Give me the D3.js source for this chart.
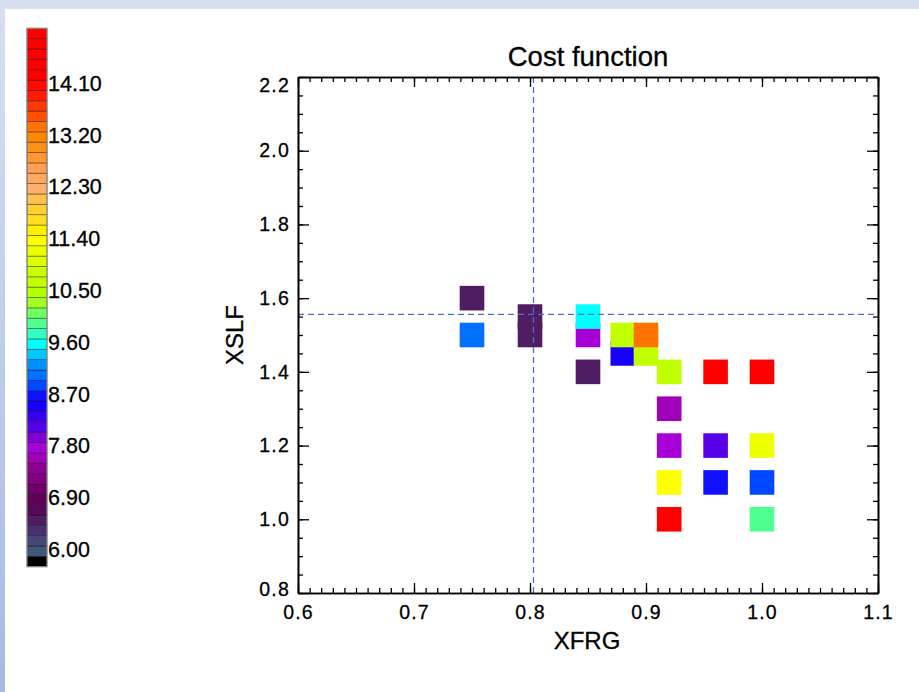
<!DOCTYPE html>
<html>
<head>
<meta charset="utf-8">
<script src="https://cdn.jsdelivr.net/npm/d3@7"></script>
<style>
  body { margin: 0; background: #fff; }
  text { font-family: "Liberation Sans", Arial, Helvetica, sans-serif; fill: #000; stroke: #000; stroke-width: 0.3px; }
</style>
</head>
<body>
<svg id="chart" width="919" height="692"></svg>
<script>
// grid points (drawn in this order: XSLF ascending, then XFRG)
var xfrg = [0.92, 1.00, 0.92, 0.96, 1.00, 0.92, 0.96, 1.00, 0.92, 0.85, 0.92, 0.96, 1.00,
            0.88, 0.90, 0.75, 0.80, 0.85, 0.88, 0.90, 0.80, 0.85, 0.75];
var xslf = [1.00, 1.00, 1.10, 1.10, 1.10, 1.20, 1.20, 1.20, 1.30, 1.40, 1.40, 1.40, 1.40,
            1.45, 1.45, 1.50, 1.50, 1.50, 1.50, 1.50, 1.55, 1.55, 1.60];
var cost = [14.60, 10.05, 11.45, 8.80, 9.05, 7.90, 8.25, 11.30, 7.70, 6.65, 10.75, 14.50, 14.80,
            8.61, 10.80, 9.20, 6.60, 7.89, 10.77, 13.40, 6.62, 9.69, 6.60];

// reference (best) point, dashed lines
var bestX = 0.803, bestY = 1.556;

var xTicks = [0.6, 0.7, 0.8, 0.9, 1.0, 1.1];
var yTicks = [0.8, 1.0, 1.2, 1.4, 1.6, 1.8, 2.0, 2.2];

// colour table, bottom to top, one entry per colour bar step
var cbMin = 5.82, cbStep = 0.18;
var colorTable = [
  "#000000", "#40587a", "#484878", "#4a3070", "#501c62", "#580858", "#600058", "#700068",
  "#800080", "#900090", "#a000b8", "#a800d8", "#8000d8", "#5800e8", "#3800ee", "#1800ff",
  "#1010ff", "#0048ff", "#0070ff", "#0090ff", "#00c8ff", "#00ffff", "#30ffc0", "#50ff90",
  "#70ff60", "#a0ff20", "#b4ff00", "#c0ff00", "#ccff00", "#ddff00", "#eeff00", "#ffff00",
  "#fff000", "#ffe020", "#ffd030", "#ffc050", "#ffb070", "#ffa860", "#ffa050", "#ff9830",
  "#ff9018", "#ff8800", "#ff7400", "#ff5000", "#ff3800", "#ff1c00", "#ff0a00", "#ff0000",
  "#ff0000", "#ff0000", "#ff0000", "#ff0000"
];
var cbTicks = [6.00, 6.90, 7.80, 8.70, 9.60, 10.50, 11.40, 12.30, 13.20, 14.10];

var svg = d3.select("#chart");

// page frame
var grad = svg.append("defs").append("linearGradient")
    .attr("id", "edge").attr("x1", 0).attr("y1", 0).attr("x2", 0).attr("y2", 1);
grad.append("stop").attr("offset", "0%").attr("stop-color", "#d6e0f1");
grad.append("stop").attr("offset", "100%").attr("stop-color", "#a6bae2");
svg.append("rect").attr("width", 919).attr("height", 9).attr("fill", "#d6e0f1");
svg.append("rect").attr("width", 5).attr("height", 692).attr("fill", "url(#edge)");

// ---- colour bar ----
var cbMax = cbMin + colorTable.length * cbStep;
var cbY = d3.scaleLinear().domain([cbMin, cbMax]).range([566.7, 28.3]);
var color = d3.scaleQuantize().domain([cbMin, cbMax]).range(colorTable);

var cb = svg.append("g").attr("transform", "translate(27,0)");
cb.selectAll("rect.seg")
  .data(colorTable)
  .enter().append("rect")
    .attr("class", "seg")
    .attr("x", 0)
    .attr("width", 20)
    .attr("y", function(d, i) { return cbY(cbMin + (i + 1) * cbStep); })
    .attr("height", function(d, i) { return cbY(cbMin + i * cbStep) - cbY(cbMin + (i + 1) * cbStep); })
    .attr("fill", function(d) { return d; })
    .attr("stroke", "rgba(0,0,0,0.45)")
    .attr("stroke-width", 0.8);
cb.append("rect")
    .attr("x", 0).attr("y", cbY(cbMax))
    .attr("width", 20).attr("height", cbY(cbMin) - cbY(cbMax))
    .attr("fill", "none").attr("stroke", "#8a8a8a").attr("stroke-width", 1.2);
cb.selectAll("text.cbl")
  .data(cbTicks)
  .enter().append("text")
    .attr("class", "cbl")
    .attr("x", 21)
    .attr("y", function(d) { return cbY(d) + 0.5; })
    .style("font-size", "21.5px")
    .text(function(d) { return d.toFixed(2); });

// ---- main plot ----
var x = d3.scaleLinear().domain([0.6, 1.1]).range([298, 878]);
var y = d3.scaleLinear().domain([0.8, 2.2]).range([593, 77]);

var minorX = d3.range(60, 111).map(function(v) { return v / 100; });
var minorY = d3.range(16, 45).map(function(v) { return v / 20; });

var plot = svg.append("g");

// squares
var sq = 24.6;
plot.selectAll("rect.cell")
  .data(cost)
  .enter().append("rect")
    .attr("class", "cell")
    .attr("x", function(d, i) { return x(xfrg[i]) - sq / 2; })
    .attr("y", function(d, i) { return y(xslf[i]) - sq / 2; })
    .attr("width", sq)
    .attr("height", sq)
    .attr("fill", function(d) { return color(d); });

// dashed guide lines
plot.append("line")
    .attr("x1", x(bestX)).attr("x2", x(bestX))
    .attr("y1", y(0.8)).attr("y2", y(2.2))
    .attr("stroke", "#4a72c4").attr("stroke-width", 1.3).attr("stroke-dasharray", "6,4");
plot.append("line")
    .attr("x1", x(0.6)).attr("x2", x(1.1))
    .attr("y1", y(bestY)).attr("y2", y(bestY))
    .attr("stroke", "#4a72c4").attr("stroke-width", 1.3).attr("stroke-dasharray", "6,4");

function styleAxis(g) {
  g.selectAll(".domain").attr("stroke", "#000").attr("stroke-width", 1.6);
  g.selectAll(".tick line").attr("stroke", "#000").attr("stroke-width", 1.3);
  g.selectAll("text").style("font-size", "19.5px").style("letter-spacing", "1.2px")
    .attr("font-family", null).attr("fill", null);
}

// bottom
var gb = plot.append("g").attr("transform", "translate(0,593)");
gb.call(d3.axisBottom(x).tickValues(minorX).tickSize(-5).tickSizeOuter(0).tickFormat(""));
gb.append("g").call(d3.axisBottom(x).tickValues(xTicks).tickSize(-10).tickSizeOuter(0)
    .tickPadding(12).tickFormat(d3.format(".1f")));
styleAxis(gb);
// top
var gt = plot.append("g").attr("transform", "translate(0,77)");
gt.call(d3.axisTop(x).tickValues(minorX).tickSize(-5).tickSizeOuter(0).tickFormat(""));
gt.append("g").call(d3.axisTop(x).tickValues(xTicks).tickSize(-10).tickSizeOuter(0).tickFormat(""));
styleAxis(gt);
// left
var gl = plot.append("g").attr("transform", "translate(298,0)");
gl.call(d3.axisLeft(y).tickValues(minorY).tickSize(-5).tickSizeOuter(0).tickFormat(""));
gl.append("g").call(d3.axisLeft(y).tickValues(yTicks).tickSize(-11).tickSizeOuter(0)
    .tickPadding(8).tickFormat(d3.format(".1f")));
styleAxis(gl);
// nudge end labels inside the axis range
gl.selectAll("text").filter(function(d) { return d === 2.2; }).attr("y", 8);
gl.selectAll("text").filter(function(d) { return d === 0.8; }).attr("y", -4);
// right
var gr = plot.append("g").attr("transform", "translate(878,0)");
gr.call(d3.axisRight(y).tickValues(minorY).tickSize(-5).tickSizeOuter(0).tickFormat(""));
gr.append("g").call(d3.axisRight(y).tickValues(yTicks).tickSize(-11).tickSizeOuter(0).tickFormat(""));
styleAxis(gr);

// titles
svg.append("text")
    .attr("x", 588).attr("y", 65.5)
    .attr("text-anchor", "middle")
    .style("font-size", "27.5px")
    .text("Cost function");
svg.append("text")
    .attr("x", 587).attr("y", 649)
    .attr("text-anchor", "middle")
    .style("font-size", "24px")
    .text("XFRG");
svg.append("text")
    .attr("transform", "translate(243,335) rotate(-90)")
    .attr("text-anchor", "middle")
    .style("font-size", "24px")
    .text("XSLF");
</script>
</body>
</html>
